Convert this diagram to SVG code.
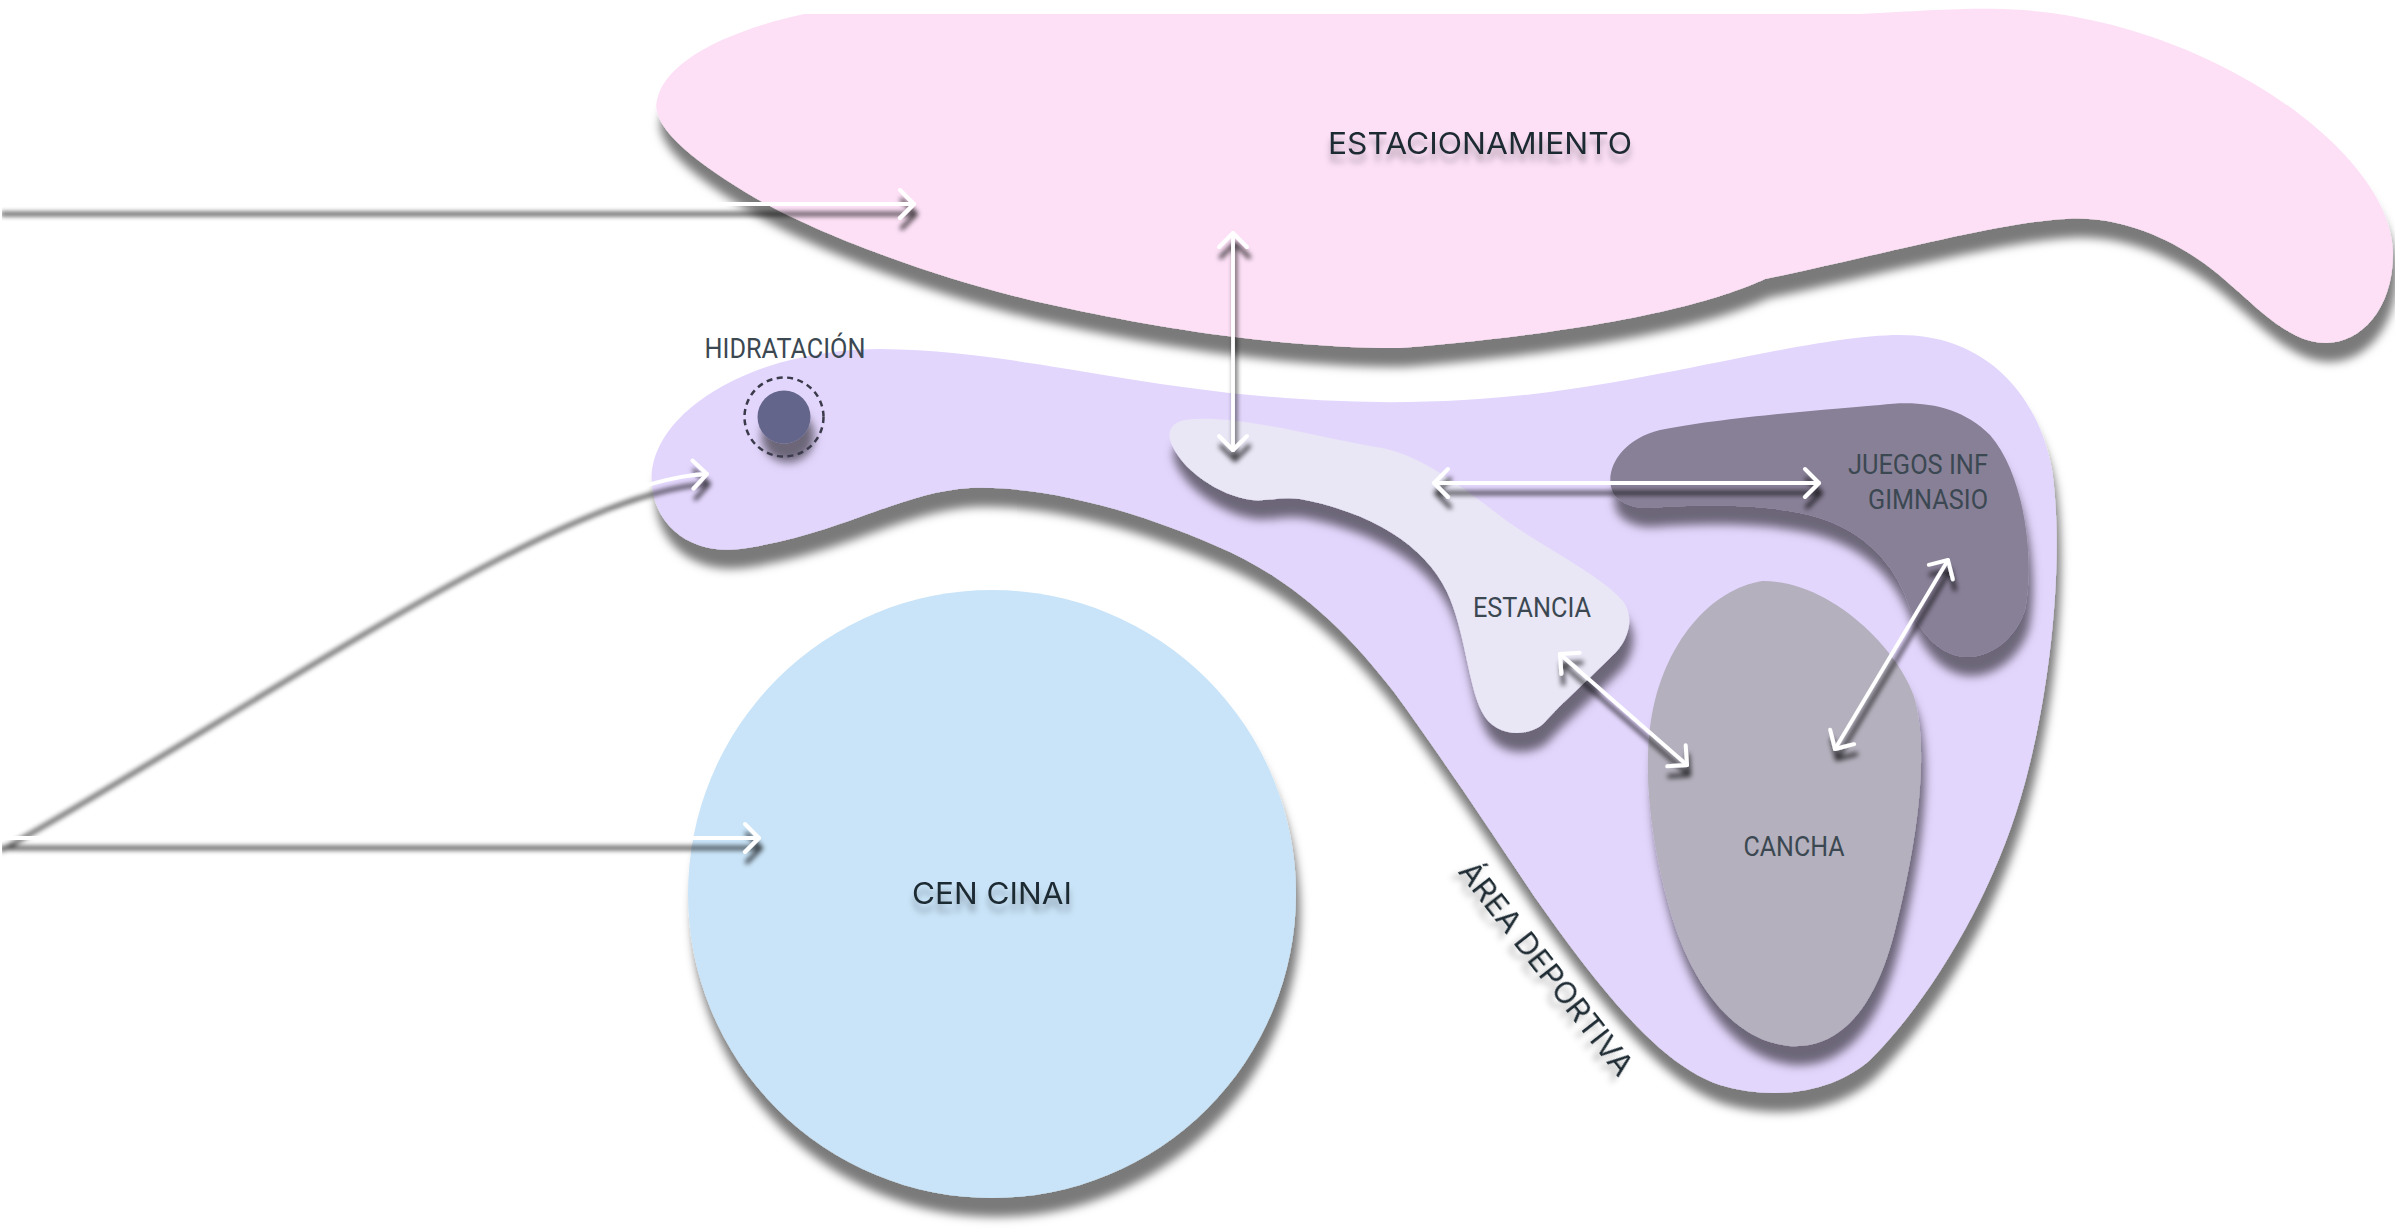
<svg xmlns="http://www.w3.org/2000/svg" width="2395" height="1231" viewBox="0 0 2395 1231">
<defs>
<filter id="sh" filterUnits="userSpaceOnUse" x="0" y="0" width="2395" height="1231">
<feGaussianBlur in="SourceAlpha" stdDeviation="5"/>
<feOffset dx="4" dy="19" result="b"/>
<feFlood flood-color="#000" flood-opacity="0.52"/>
<feComposite in2="b" operator="in"/>
<feMerge><feMergeNode/><feMergeNode in="SourceGraphic"/></feMerge>
</filter>
<filter id="ash" filterUnits="userSpaceOnUse" x="0" y="0" width="2395" height="1231">
<feGaussianBlur in="SourceAlpha" stdDeviation="2.5"/>
<feOffset dx="2" dy="10" result="b"/>
<feFlood flood-color="#000" flood-opacity="0.72"/>
<feComposite in2="b" operator="in"/>
<feMerge><feMergeNode/><feMergeNode in="SourceGraphic"/></feMerge>
</filter>
<filter id="tsh" x="-10%" y="-30%" width="120%" height="180%">
<feGaussianBlur in="SourceAlpha" stdDeviation="3"/>
<feOffset dx="0" dy="8" result="b"/>
<feFlood flood-color="#000" flood-opacity="0.3"/>
<feComposite in2="b" operator="in"/>
<feMerge><feMergeNode/><feMergeNode in="SourceGraphic"/></feMerge>
</filter>
<marker id="chev" viewBox="-20 -18 24 36" refX="0" refY="0" markerWidth="24" markerHeight="36" markerUnits="userSpaceOnUse" orient="auto-start-reverse">
<path d="M -14 -14 L 0 0 L -14 14" fill="none" stroke="#fff" stroke-width="4" stroke-linecap="round" stroke-linejoin="round"/>
</marker>
</defs>
<style>
.big{font-family:Inter,"Liberation Sans",sans-serif;font-size:30px;fill:#1f2933;text-anchor:middle}
.lbl{font-family:Roboto,"Liberation Sans",sans-serif;font-size:28px;fill:#3b4852;text-anchor:middle}
.arr{fill:none;stroke:#fff;stroke-width:3.8;stroke-linecap:round}
.two{marker-start:url(#chev);marker-end:url(#chev)}
.one{marker-end:url(#chev)}
</style>
<rect width="2395" height="1231" fill="#fff"/>

<g id="estacionamiento">
<path filter="url(#sh)" fill="#fde0f6" d="M 804 14 L 1860 14 C 1920 11, 1960 8, 2003 9 C 2200 15, 2393 150, 2393 254 C 2393 310, 2360 343, 2326 343 C 2290 343, 2260 310, 2225 280 C 2180 240, 2120 215, 2066 219 C 2000 222, 1880 255, 1765 279 C 1720 300, 1620 330, 1400 348 C 1280 348, 1160 328, 1071 309 C 950 285, 820 235, 757 199 C 690 160, 650 125, 657 100 C 665 60, 730 30, 804 14 Z"/>
<text class="big" x="1480" y="154" textLength="304" lengthAdjust="spacingAndGlyphs" filter="url(#tsh)">ESTACIONAMIENTO</text>
</g>

<g id="area-deportiva">
<path filter="url(#sh)" fill="#e3d6fd" d="M 652 485 C 645 420, 740 350, 880 349 C 1000 350, 1100 380, 1250 395 C 1350 405, 1450 405, 1550 392 C 1680 375, 1820 335, 1900 335 C 1990 335, 2040 400, 2052 470 C 2065 560, 2050 700, 2020 800 C 1990 900, 1930 1000, 1870 1060 C 1830 1095, 1770 1100, 1720 1085 C 1660 1065, 1600 990, 1534 896 C 1490 830, 1440 755, 1394 692 C 1350 635, 1300 585, 1230 552 C 1150 515, 1050 485, 970 488 C 900 492, 840 535, 740 549 C 690 555, 655 525, 652 485 Z"/>
<text class="big" x="0" y="0" textLength="262" lengthAdjust="spacingAndGlyphs" filter="url(#tsh)" transform="translate(1538 975) rotate(52)">ÁREA DEPORTIVA</text>
</g>

<g id="cen-cinai">
<circle filter="url(#sh)" cx="992" cy="894" r="304" fill="#c9e4f8"/>
<text class="big" x="992" y="904" textLength="160" lengthAdjust="spacingAndGlyphs" filter="url(#tsh)">CEN CINAI</text>
</g>

<g id="estancia">
<path filter="url(#sh)" fill="#e9e6f5" d="M 1170 440 C 1166 418, 1190 418, 1215 419 C 1270 422, 1330 440, 1382 448 C 1420 455, 1460 485, 1507 521 C 1545 548, 1600 575, 1622 600 C 1635 615, 1630 640, 1612 656 C 1590 678, 1560 705, 1545 722 C 1530 738, 1495 738, 1482 712 C 1468 685, 1465 630, 1447 592 C 1425 545, 1370 512, 1300 499 C 1280 496, 1265 502, 1252 500 C 1220 496, 1180 470, 1170 440 Z"/>
<text class="lbl" x="1532" y="617" textLength="118" lengthAdjust="spacingAndGlyphs">ESTANCIA</text>
</g>

<g id="juegos-inf">
<path filter="url(#sh)" fill="#888097" d="M 1612 490 C 1605 470, 1620 440, 1660 430 C 1720 418, 1820 410, 1880 405 C 1920 400, 1960 405, 1990 435 C 2025 475, 2035 560, 2025 610 C 2015 640, 1990 658, 1965 657 C 1935 655, 1915 625, 1905 595 C 1890 560, 1860 525, 1800 513 C 1750 503, 1690 505, 1650 508 C 1630 509, 1615 500, 1612 490 Z"/>
<text class="lbl" x="1988" y="474" style="text-anchor:end" textLength="140" lengthAdjust="spacingAndGlyphs">JUEGOS INF</text>
<text class="lbl" x="1988" y="509" style="text-anchor:end" textLength="120" lengthAdjust="spacingAndGlyphs">GIMNASIO</text>
</g>

<g id="cancha">
<path filter="url(#sh)" fill="#b4b0bd" d="M 1762 581 C 1710 590, 1670 640, 1655 700 C 1640 760, 1650 840, 1670 910 C 1690 980, 1730 1040, 1789 1046 C 1850 1050, 1880 990, 1895 930 C 1915 850, 1930 760, 1915 700 C 1900 650, 1830 580, 1762 581 Z"/>
<text class="lbl" x="1794" y="856" textLength="101" lengthAdjust="spacingAndGlyphs">CANCHA</text>
</g>

<g id="hidratacion">
<circle filter="url(#sh)" cx="784" cy="417" r="26.5" fill="#63668a"/>
<circle cx="784" cy="417" r="39.5" fill="none" stroke="#3a3a4a" stroke-width="2.5" stroke-dasharray="6 4.5"/>
<text class="lbl" x="785" y="358" textLength="161" lengthAdjust="spacingAndGlyphs">HIDRATACIÓN</text>
</g>

<g id="connectors" filter="url(#ash)">
<path class="arr one" d="M 0 204 L 914 204"/>
<path class="arr one" d="M 0 840 C 250 700, 560 480, 707 474"/>
<path class="arr one" d="M 0 838 L 759 838"/>
<path class="arr two" d="M 1233 233 L 1233 450"/>
<path class="arr two" d="M 1434 483 L 1819 483"/>
<path class="arr two" d="M 1560 654 L 1687 765"/>
<path class="arr two" d="M 1835 749 L 1948 560"/>
</g>
</svg>
